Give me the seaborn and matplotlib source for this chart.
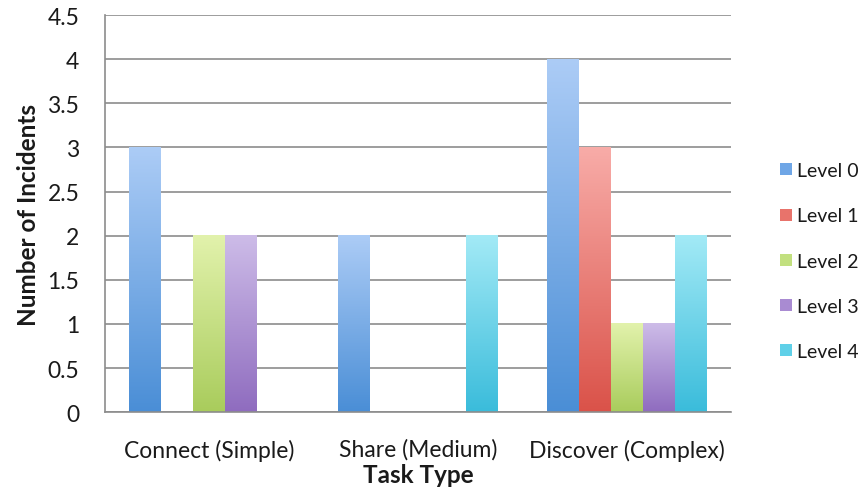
import numpy as np
import pandas as pd
import matplotlib
matplotlib.use("Agg")
import matplotlib.pyplot as plt
from matplotlib.colors import LinearSegmentedColormap
from matplotlib.lines import Line2D
import seaborn as sns

categories = ["Connect (Simple)", "Share (Medium)", "Discover (Complex)"]
levels = ["Level 0", "Level 1", "Level 2", "Level 3", "Level 4"]
level0 = [3, 2, 4]
level1 = [0, 0, 3]
level2 = [2, 0, 1]
level3 = [2, 0, 1]
level4 = [0, 2, 2]
yticks = [0, 0.5, 1, 1.5, 2, 2.5, 3, 3.5, 4, 4.5]

top_colors = ["#acccf6", "#f8aca8", "#e2f2ac", "#cdbce8", "#a3eaf6"]
bot_colors = ["#4a8ed6", "#da5249", "#a9cc5c", "#8f6cbf", "#3abcdb"]
mid_colors = ["#6fa6e6", "#e8736b", "#c2e07f", "#a98bd2", "#5fd0e8"]

rows = []
for lev, vals in zip(levels, [level0, level1, level2, level3, level4]):
    for c, v in zip(categories, vals):
        rows.append({"Task Type": c, "Level": lev, "Incidents": v})
df = pd.DataFrame(rows)

sns.set_style("white")
plt.rcParams["font.family"] = ["Lato", "DejaVu Sans"]

fig = plt.figure(figsize=(8.62, 5.02), dpi=100)
ax = fig.add_axes([0.1218, 0.177, 0.848 - 0.1218, 0.968 - 0.177])

sns.barplot(data=df, x="Task Type", y="Incidents", hue="Level",
            order=categories, hue_order=levels, palette=mid_colors,
            width=0.766, gap=0, ax=ax, legend=False, errorbar=None,
            linewidth=0, saturation=1)

# Gradient fills
for i, cont in enumerate(ax.containers):
    cmap = LinearSegmentedColormap.from_list("g", [bot_colors[i], top_colors[i]])
    grad = np.linspace(0, 1, 256).reshape(-1, 1)
    for patch in cont.patches:
        h = patch.get_height()
        if h <= 0:
            continue
        x0 = patch.get_x()
        w = patch.get_width()
        patch.set_alpha(0)
        ax.imshow(grad, extent=[x0, x0 + w, 0, h], origin="lower",
                  cmap=cmap, aspect="auto", zorder=3, interpolation="bilinear")

ax.set_xlim(-0.5, 2.5)
ax.set_ylim(0, 4.5)
ax.set_yticks(yticks)
ax.set_yticklabels(["%g" % t for t in yticks])
ax.yaxis.grid(True, color="#8c8c8c", linewidth=1.2)
ax.set_axisbelow(True)

for s in ["top", "right"]:
    ax.spines[s].set_visible(False)
for s in ["left", "bottom"]:
    ax.spines[s].set_color("#8c8c8c")
    ax.spines[s].set_linewidth(1.2)
    ax.spines[s].set_zorder(4)

ax.set_xticks([0, 1, 2])
ax.set_xticklabels(categories)
ax.set_xticks([-0.5, 0.5, 1.5, 2.5], minor=True)
ax.tick_params(axis="x", which="major", length=0, pad=19, labelsize=16.5, colors="#1a1a1a")
ax.tick_params(axis="x", which="minor", length=6, width=1.2, color="#8c8c8c", direction="out")
ax.tick_params(axis="y", length=8, width=1.2, color="#8c8c8c", direction="out",
               labelsize=16.5, pad=10.5, labelcolor="#1a1a1a")

ax.set_xlabel("Task Type", fontsize=17.5, fontweight="bold", labelpad=2, color="#1a1a1a")
ax.set_ylabel("Number of Incidents", fontsize=17.5, fontweight="bold", labelpad=5, color="#1a1a1a")

handles = [Line2D([], [], marker="s", linestyle="", markersize=8,
                  markerfacecolor=mid_colors[i], markeredgewidth=0) for i in range(5)]
fig.legend(handles, levels, loc="center left", bbox_to_anchor=(0.901, 0.478),
           frameon=False, fontsize=14, labelspacing=1.45, handletextpad=0.05,
           handlelength=1.0, labelcolor="#1a1a1a", borderpad=0, borderaxespad=0)

fig.savefig("out.png", dpi=100)
